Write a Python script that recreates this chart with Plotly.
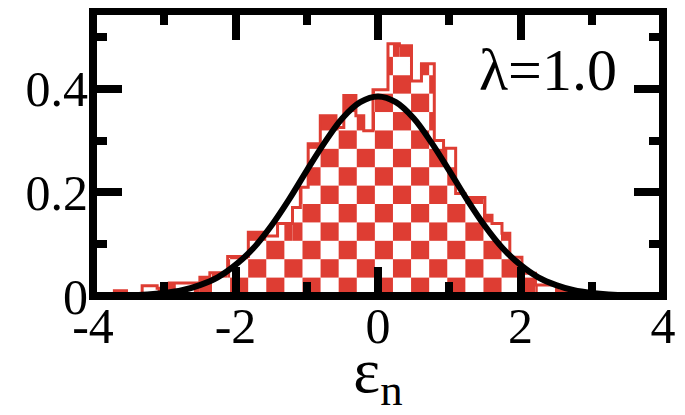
import math
import plotly.graph_objects as go

# ---- data ----
bin_edges = [-3.70, -3.53, -3.31, -3.10, -2.93, -2.69, -2.50, -2.36, -2.11, -1.82,
             -1.61, -1.41, -1.20, -1.09, -0.98, -0.81, -0.59, -0.48, -0.31, -0.20,
             -0.07, 0.14, 0.30, 0.47, 0.61, 0.79, 0.92, 1.09, 1.22, 1.50,
             1.60, 1.74, 1.85, 2.02, 2.21, 2.33, 2.52, 2.66]
bin_heights = [0.010, 0.0, 0.020, 0.015, 0.025, 0.025, 0.036, 0.045, 0.076, 0.123,
               0.116, 0.140, 0.171, 0.210, 0.294, 0.348, 0.325, 0.387, 0.348, 0.319,
               0.398, 0.487, 0.483, 0.415, 0.448, 0.300, 0.285, 0.198, 0.190, 0.156,
               0.140, 0.121, 0.075, 0.044, 0.021, 0.021, 0.010]

curve_x = [-4.0, -3.5, -3.0, -2.75, -2.5, -2.25, -2.0, -1.75, -1.5, -1.25, -1.0, -0.75,
           -0.5, -0.25, 0.0, 0.25, 0.5, 0.75, 1.0, 1.25, 1.5, 1.75, 2.0, 2.25, 2.5,
           2.75, 3.0, 3.5, 4.0]
curve_y = [0.000, 0.001, 0.006, 0.011, 0.021, 0.036, 0.060, 0.092, 0.135, 0.186, 0.242, 0.296,
           0.343, 0.374, 0.385, 0.374, 0.343, 0.296, 0.242, 0.186, 0.135, 0.092, 0.060, 0.036, 0.021,
           0.011, 0.006, 0.001, 0.000]

x_tickvals = [-4, -2, 0, 2, 4]
x_ticktext = ["-4", "-2", "0", "2", "4"]
y_tickvals = [0, 0.2, 0.4]
y_ticktext = ["0", "0.2", "0.4"]

# ---- style ----
RED = "#de3d33"
FONT = "Liberation Serif, Times New Roman, serif"
CELL_W = 0.254   # checker cell width (x units)
CELL_H = 0.0355  # checker cell height (y units)
CELL_X0 = -0.806

# split histogram bins at checker column boundaries
pieces = []  # (left, right, column, height)
for i, h in enumerate(bin_heights):
    a, b = bin_edges[i], bin_edges[i + 1]
    if h <= 0:
        continue
    cuts = [a]
    k = math.floor((a - CELL_X0) / CELL_W) + 1
    while CELL_X0 + k * CELL_W < b - 1e-9:
        cuts.append(CELL_X0 + k * CELL_W)
        k += 1
    cuts.append(b)
    for j in range(len(cuts) - 1):
        l, r = cuts[j], cuts[j + 1]
        if r - l < 1e-6:
            continue
        c = math.floor(((l + r) / 2 - CELL_X0) / CELL_W)
        pieces.append((l, r, c, h))

# build red checker cells, merging adjacent pieces with equal cell tops
max_rows = int(max(bin_heights) / CELL_H) + 2
seg_x, seg_w, seg_base, seg_len = [], [], [], []
for row in range(max_rows):
    lo = row * CELL_H
    run = None  # [left, right, column, top]
    for (l, r, c, h) in pieces:
        if (c + row) % 2 == 0 or h <= lo:
            seg = None
        else:
            seg = [l, r, c, min(lo + CELL_H, h)]
        if run is not None and seg is not None and seg[2] == run[2] \
                and abs(seg[0] - run[1]) < 1e-6 and abs(seg[3] - run[3]) < 1e-9:
            run[1] = seg[1]
            continue
        if run is not None:
            seg_x.append((run[0] + run[1]) / 2)
            seg_w.append(run[1] - run[0])
            seg_base.append(lo)
            seg_len.append(run[3] - lo)
        run = seg
    if run is not None:
        seg_x.append((run[0] + run[1]) / 2)
        seg_w.append(run[1] - run[0])
        seg_base.append(lo)
        seg_len.append(run[3] - lo)

# outline of the histogram (step line)
outline_x = [bin_edges[0]] + bin_edges
outline_y = [0.0] + bin_heights + [0.0]

fig = go.Figure()
fig.add_trace(go.Bar(x=seg_x, y=seg_len, base=seg_base, width=seg_w,
                     marker=dict(color=RED, line=dict(width=0)), showlegend=False,
                     hoverinfo="skip"))
fig.add_trace(go.Scatter(x=outline_x, y=outline_y, mode="lines",
                         line=dict(color=RED, width=3, shape="hv"), showlegend=False,
                         hoverinfo="skip"))
fig.add_trace(go.Scatter(x=curve_x, y=curve_y, mode="lines",
                         line=dict(color="black", width=6, shape="spline"),
                         showlegend=False))

fig.add_annotation(x=2.38, y=0.437, xref="x", yref="y", text="λ=1.0", showarrow=False,
                   font=dict(family=FONT, size=60, color="black"),
                   xanchor="center", yanchor="middle")

fig.add_shape(type="rect", xref="paper", yref="paper", x0=0, y0=0, x1=1, y1=1,
              line=dict(color="black", width=8), layer="above")

# the page body adds an 8px offset; the figure is sized so the plot lands where the reference has it
fig.update_layout(
    width=677, height=407,
    margin=dict(l=85, r=22, t=3, b=119),
    paper_bgcolor="white", plot_bgcolor="white",
    barmode="overlay",
    font=dict(family=FONT, color="black"),
)
fig.update_xaxes(range=[-4, 4], showgrid=False, zeroline=False, showline=False,
                 automargin=False,
                 mirror="ticks", ticks="inside", ticklen=29, tickwidth=8, tickcolor="black",
                 tickvals=x_tickvals, ticktext=x_ticktext, ticklabelstandoff=-4,
                 tickfont=dict(family=FONT, size=50, color="black"),
                 minor=dict(dtick=1, tick0=-4, ticks="inside", ticklen=14, tickwidth=8,
                            tickcolor="black", showgrid=False),
                 title=dict(text="ε<sub>n</sub>", font=dict(family=FONT, size=64, color="black"),
                            standoff=0))
fig.update_yaxes(range=[0, 0.55], showgrid=False, zeroline=False, showline=False,
                 automargin=False,
                 mirror="ticks", ticks="inside", ticklen=29, tickwidth=8, tickcolor="black",
                 tickvals=y_tickvals, ticktext=y_ticktext, ticklabelstandoff=4,
                 tickfont=dict(family=FONT, size=50, color="black"),
                 minor=dict(dtick=0.1, tick0=0, ticks="inside", ticklen=14, tickwidth=8,
                            tickcolor="black", showgrid=False))

fig.write_html("out.html")
